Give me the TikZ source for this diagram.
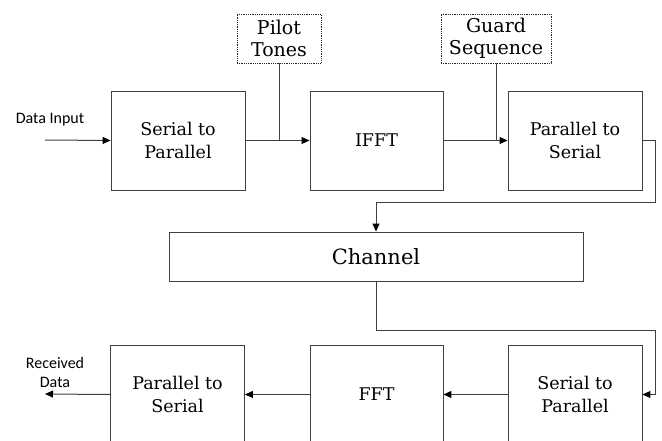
\documentclass[tikz,border=0pt]{standalone}
\usepackage{fontspec}
\setmainfont{DejaVu Serif}
\newfontfamily\labelfont{Carlito}
\usetikzlibrary{arrows.meta}
\begin{document}
\begin{tikzpicture}[x=1pt,y=-1pt,
  block/.style={draw=black!75, line width=0.9pt, minimum width=134pt,
    minimum height=99pt, align=center, inner sep=0pt,
    font=\fontsize{17.5}{23}\selectfont},
  insert/.style={draw=black!85, line width=0.8pt, densely dotted,
    minimum width=84pt, minimum height=49pt, align=center, inner sep=0pt,
    font=\fontsize{19}{22}\selectfont},
  wire/.style={draw=black!75, line width=1pt},
  arrow/.style={wire, -{Triangle[length=8pt,width=7pt,fill=black,color=black]}},
  tag/.style={font=\labelfont\fontsize{16}{19}\selectfont, align=center}]
\useasboundingbox (0,0) rectangle (662,441);
\clip (0,0) rectangle (662,441);

% transmitter chain
\node[block] (s2p)  at (178,140.5)   {Serial to\\Parallel};
\node[block, minimum width=133pt] (ifft) at (376.5,140.5) {IFFT};
\node[block] (p2s)  at (575,140.5)   {Parallel to\\Serial};

% inserted sequences
\node[insert] (pilot) at (279,38.5) {Pilot\\Tones};
\node[insert, minimum width=110pt] (guard) at (496,38.5) {Guard\\Sequence};

% channel
\node[draw=black!75, line width=0.9pt, minimum width=414pt, minimum height=49pt,
  inner sep=0pt, font=\fontsize{21}{22}\selectfont] (chan) at (376,256.5) {Channel};

% receiver chain
\node[block] (s2pr) at (575,394.5)   {Serial to\\Parallel};
\node[block, minimum width=133pt] (fft) at (376.5,394.5) {FFT};
\node[block] (p2sr) at (177.5,394.5) {Parallel to\\Serial};

% free ends and bends
\coordinate (din)  at (45,140);
\coordinate (dout) at (45,394);
\coordinate (b1)   at (655,203);
\coordinate (b2)   at (655,330);

\node[tag] (lin)  at (50,120)  {Data Input};
\node[tag] (lout) at (55,373)  {Received\\Data};

% connectors
\draw[arrow] (din) -- (s2p.west);
\draw[arrow] (s2p.east) -- (ifft.west);
\draw[wire] (pilot.south) -- (pilot.south |- ifft.west);
\draw[arrow] (ifft.east) -- (p2s.west);
\draw[wire] (guard.south) -- (guard.south |- p2s.west);
\draw[arrow] (p2s.east) -| (b1) -| (chan.north);
\draw[arrow] (chan.south) |- (b2) |- (s2pr.east);
\draw[arrow] (s2pr.west) -- (fft.east);
\draw[arrow] (fft.west) -- (p2sr.east);
\draw[arrow] (p2sr.west) -- (dout);
\end{tikzpicture}
\end{document}
